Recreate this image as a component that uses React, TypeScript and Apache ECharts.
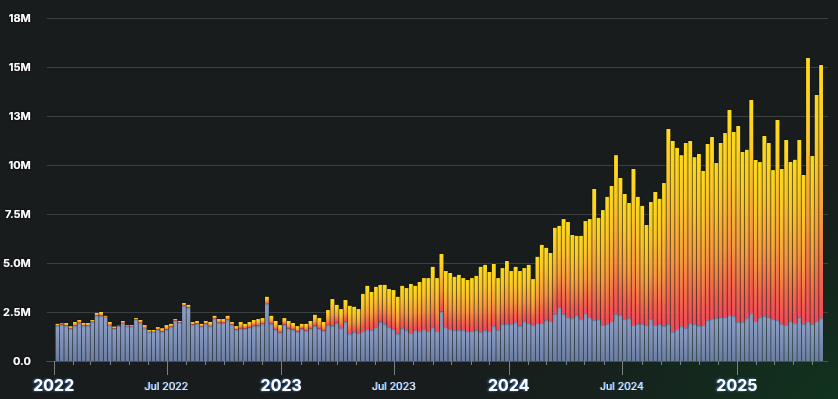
import React, { useEffect, useRef } from "react";
import * as echarts from "echarts";

// Weekly totals (millions)
const totalM: number[] = [
  1.89, 1.92, 1.94, 1.77, 1.99, 2.09, 1.94, 1.94, 2.09, 2.45, 2.5, 2.3, 1.99, 1.75, 1.8, 2.04, 1.83, 1.83, 2.19, 2.09,
  1.83, 1.58, 1.58, 1.73, 1.67, 1.83, 1.89, 2.14, 2.04, 2.96, 2.86, 1.99, 2.04, 1.89, 2.04, 1.99, 2.3, 2.14, 2.14, 2.3,
  1.99, 1.78, 1.99, 1.89, 1.99, 2.09, 2.14, 2.19, 3.27, 2.3, 2.04, 1.83, 2.19, 2.04, 1.94, 1.78, 1.89, 1.89, 2.04, 2.35,
  2.19, 1.99, 2.6, 3.16, 2.86, 2.65, 3.11, 2.81, 2.76, 2.65, 3.42, 3.83, 3.52, 3.78, 3.88, 3.88, 3.67, 3.62, 3.27, 3.83,
  3.72, 3.93, 3.83, 4.03, 4.23, 4.23, 4.8, 4.23, 5.46, 4.59, 4.49, 4.29, 4.39, 4.23, 4.13, 4.23, 4.34, 4.8, 4.9, 4.54,
  4.95, 4.23, 4.74, 5.1, 4.59, 4.8, 4.59, 4.74, 4.9, 4.18, 5.31, 5.92, 5.77, 5.51, 6.79, 6.89, 7.24, 7.09, 6.43, 6.38,
  6.38, 7.14, 7.24, 8.78, 7.3, 7.7, 8.37, 8.93, 10.5, 9.34, 8.52, 8.06, 9.8, 8.37, 7.91, 6.94, 8.11, 8.62, 8.27, 9.08,
  11.84, 11.22, 10.87, 10.5, 11.12, 11.22, 10.4, 10.56, 9.7, 11.07, 11.43, 10.1, 11.12, 11.63, 12.8, 11.68, 11.99, 10.66, 10.77, 13.32,
  10.26, 10.15, 11.48, 11.12, 9.74, 12.3, 9.8, 11.28, 10.15, 10.26, 11.28, 9.49, 15.46, 10.46, 13.57, 15.1,
];

// Weekly base (blue-grey) part (millions)
const baseM: number[] = [
  1.8, 1.86, 1.8, 1.66, 1.8, 1.95, 1.8, 1.8, 2.0, 2.31, 2.31, 2.25, 1.83, 1.66, 1.77, 1.94, 1.77, 1.77, 2.12, 1.95,
  1.68, 1.48, 1.48, 1.6, 1.5, 1.6, 1.75, 2.06, 1.97, 2.82, 2.72, 1.86, 1.9, 1.77, 1.9, 1.78, 2.16, 1.95, 1.95, 2.11,
  1.86, 1.6, 1.66, 1.66, 1.71, 1.8, 1.8, 1.9, 2.91, 1.9, 1.6, 1.46, 1.86, 1.66, 1.6, 1.5, 1.66, 1.55, 1.66, 1.8,
  1.66, 1.55, 1.84, 1.79, 1.95, 1.68, 2.0, 1.38, 1.48, 1.43, 1.53, 1.63, 1.58, 1.73, 2.0, 1.89, 1.73, 1.63, 1.38, 1.68,
  1.58, 1.43, 1.58, 1.53, 1.63, 1.53, 1.73, 1.53, 2.52, 1.73, 1.63, 1.58, 1.58, 1.58, 1.53, 1.53, 1.58, 1.48, 1.58, 1.53,
  1.79, 1.58, 1.89, 1.89, 1.89, 1.99, 1.79, 2.04, 1.94, 1.84, 1.94, 1.94, 2.09, 2.04, 2.4, 2.76, 2.4, 2.24, 2.19, 2.35,
  2.14, 2.45, 2.24, 2.09, 2.14, 1.84, 1.89, 2.04, 2.4, 2.35, 2.14, 2.19, 1.84, 1.89, 1.89, 1.84, 2.14, 1.84, 1.89, 1.79,
  1.89, 1.48, 1.63, 1.79, 1.68, 1.94, 1.89, 1.79, 1.84, 2.09, 2.14, 2.19, 2.24, 2.24, 2.35, 2.3, 1.99, 1.99, 2.19, 2.45,
  2.04, 2.24, 2.3, 2.24, 2.14, 2.09, 1.89, 1.84, 2.04, 1.94, 2.24, 1.89, 2.04, 1.89, 2.04, 2.19,
];

// First week (Monday) of the series; one bar per week, drawn mid-week
const firstWeek = new Date(2022, 0, 3, 12);
const DAY = 86400000;
const weeks: number[] = totalM.map((_, i) => firstWeek.getTime() + (i * 7 + 3.5) * DAY);

// Axis extent and month tick marks (Jan / Jul are the long ones)
const axisMin = new Date(2021, 11, 24).getTime();
const axisMax = new Date(2025, 4, 24).getTime();
const monthTicks: { t: number; major: boolean }[] = [];
for (let y = 2022; y <= 2025; y++) {
  for (let m = 0; m < 12; m++) {
    const t = new Date(y, m, 1).getTime();
    if (t > axisMin && t < axisMax) monthTicks.push({ t, major: m % 6 === 0 });
  }
}

export default function App() {
  const ref = useRef<HTMLDivElement>(null);

  useEffect(() => {
    if (!ref.current) return;
    const chart = echarts.init(ref.current, undefined, { renderer: "svg" });

    const baseData = weeks.map((t, i) => [t, baseM[i] * 1e6]);
    const topData = weeks.map((t, i) => [t, Math.max(0, totalM[i] - baseM[i]) * 1e6]);

    const option: any = {
      animation: false,
      backgroundColor: "transparent",
      grid: { left: 45, right: 10, top: 18, bottom: 38, containLabel: false },
      xAxis: {
        type: "time",
        min: axisMin,
        max: axisMax,
        splitNumber: 7,
        axisLine: { show: true, lineStyle: { color: "#4a4f4f", width: 1 } },
        axisTick: { show: false },
        minorTick: { show: false },
        splitLine: { show: false },
        minorSplitLine: { show: false },
        axisLabel: {
          showMinLabel: false,
          showMaxLabel: false,
          margin: 13,
          hideOverlap: false,
          formatter: (value: number) => {
            const d = new Date(value);
            if (d.getMonth() === 0 && d.getDate() === 1) return "{y|" + d.getFullYear() + "}";
            if (d.getMonth() === 6 && d.getDate() === 1) return "{m|Jul " + d.getFullYear() + "}";
            return "";
          },
          rich: {
            y: {
              fontFamily: "Inter",
              fontSize: 16,
              fontWeight: "bold",
              color: "#ffffff",
              lineHeight: 22,
              textShadowColor: "rgba(70,150,255,0.85)",
              textShadowBlur: 2,
              textShadowOffsetX: -1,
            },
            m: {
              fontFamily: "Inter",
              fontSize: 10.5,
              color: "#f2f4ff",
              lineHeight: 24,
              textShadowColor: "rgba(80,160,255,0.9)",
              textShadowBlur: 1,
              textShadowOffsetX: -1,
            },
          },
        },
      },
      yAxis: {
        type: "value",
        min: 0,
        max: 17.5e6,
        interval: 2.5e6,
        axisLine: { show: false },
        axisTick: { show: false },
        splitLine: { show: true, lineStyle: { color: "#3c4040", width: 1 } },
        axisLabel: {
          margin: 16,
          color: "#ffffff",
          fontFamily: "Inter",
          fontWeight: "bold",
          fontSize: 11,
          textShadowColor: "rgba(0,0,0,0.9)",
          textShadowBlur: 3,
          formatter: (v: number) => (v === 0 ? "0.0" : (v / 1e6).toPrecision(2) + "M"),
        },
      },
      series: [
        {
          name: "Base",
          type: "bar",
          stack: "total",
          barWidth: "86%",
          data: baseData,
          itemStyle: {
            color: new echarts.graphic.LinearGradient(0, 0, 0, 1, [
              { offset: 0, color: "#8d9fc6" },
              { offset: 1, color: "#6c7da2" },
            ]),
          },
        },
        {
          name: "Growth",
          type: "bar",
          stack: "total",
          barWidth: "86%",
          data: topData,
          itemStyle: {
            color: new echarts.graphic.LinearGradient(0, 0, 0, 1, [
              { offset: 0, color: "#ffdc1c" },
              { offset: 0.3, color: "#fcc72a" },
              { offset: 0.62, color: "#f89a3e" },
              { offset: 0.87, color: "#f4604f" },
              { offset: 1, color: "#f24a5a" },
            ]),
            shadowColor: "rgba(0,0,0,0.6)",
            shadowBlur: 2,
          },
        },
      ],
    };

    chart.setOption(option);

    // Month ticks below the axis, placed through the chart's own x scale
    const y0 = chart.convertToPixel({ yAxisIndex: 0 }, 0) as number;
    const tickEls = monthTicks.map((mt) => {
      const px = chart.convertToPixel({ xAxisIndex: 0 }, mt.t) as number;
      const x = Math.round(px) + 0.5;
      return {
        type: "line",
        silent: true,
        z: 10,
        shape: { x1: x, y1: Math.round(y0), x2: x, y2: Math.round(y0) + (mt.major ? 14 : 4) },
        style: { stroke: "#7a8184", lineWidth: 1 },
      };
    });
    chart.setOption({ graphic: tickEls });

    return () => chart.dispose();
  }, []);

  return (
    <div
      style={{
        position: "fixed",
        left: 0,
        top: 0,
        width: 838,
        height: 399,
        background:
          "radial-gradient(ellipse 60% 85% at 100% 100%, rgba(16,52,30,0.95) 0%, rgba(20,40,30,0.5) 45%, rgba(0,0,0,0) 80%), #181c1c",
      }}
    >
      <div ref={ref} style={{ width: 838, height: 399 }} />
    </div>
  );
}
